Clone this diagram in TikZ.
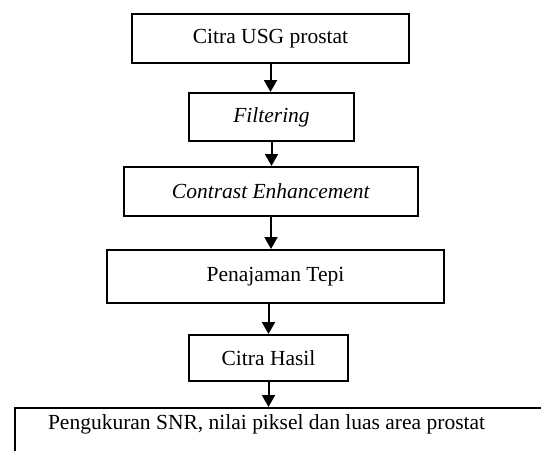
\documentclass[tikz,border=0pt]{standalone}
\usepackage{fontspec}
\setmainfont{Liberation Serif}
\usepackage{tikz}
\usetikzlibrary{arrows.meta,positioning}
\tikzstyle{kotak} = [draw, line width=2pt, inner sep=2pt, font=\fontsize{21.5}{25}\selectfont]
\tikzstyle{panah} = [-{Triangle[width=13pt,length=12pt]}, line width=2pt]

\begin{document}
\begin{tikzpicture}[x=1pt,y=-1pt]
\useasboundingbox (0,0) rectangle (541,450);
\clip (0,0) rectangle (541,450);

\node[kotak, minimum width=277pt, minimum height=49pt] (usg) at (270.5,38.5) {Citra USG prostat};
\node[kotak, minimum width=165pt, minimum height=48pt, below=28pt of usg, xshift=1pt] (filter) {\textit{Filtering}};
\node[kotak, minimum width=294pt, minimum height=49pt, below=24pt of filter, xshift=-0.5pt] (kontras) {\textit{Contrast Enhancement}};
\node[kotak, minimum width=337pt, minimum height=53pt, below=32pt of kontras, xshift=4.5pt] (tepi) {Penajaman Tepi};
\node[kotak, minimum width=159pt, minimum height=46pt, below=30pt of tepi, xshift=-7pt] (hasil) {Citra Hasil};
\node[kotak, anchor=north west, inner xsep=33pt, inner ysep=3pt, text width=470pt, align=flush left,
  text height=18pt, text depth=60pt] (ukur) at (14,407) {Pengukuran SNR, nilai piksel dan luas area prostat};

\draw[panah] (usg.south) -- (usg.south |- filter.north);
\draw[panah] (filter.south) -- (filter.south |- kontras.north);
\draw[panah] (kontras.south) -- (kontras.south |- tepi.north);
\draw[panah] (hasil.north |- tepi.south) -- (hasil.north);
\draw[panah] (hasil.south) -- (hasil.south |- ukur.north);
\end{tikzpicture}
\end{document}
